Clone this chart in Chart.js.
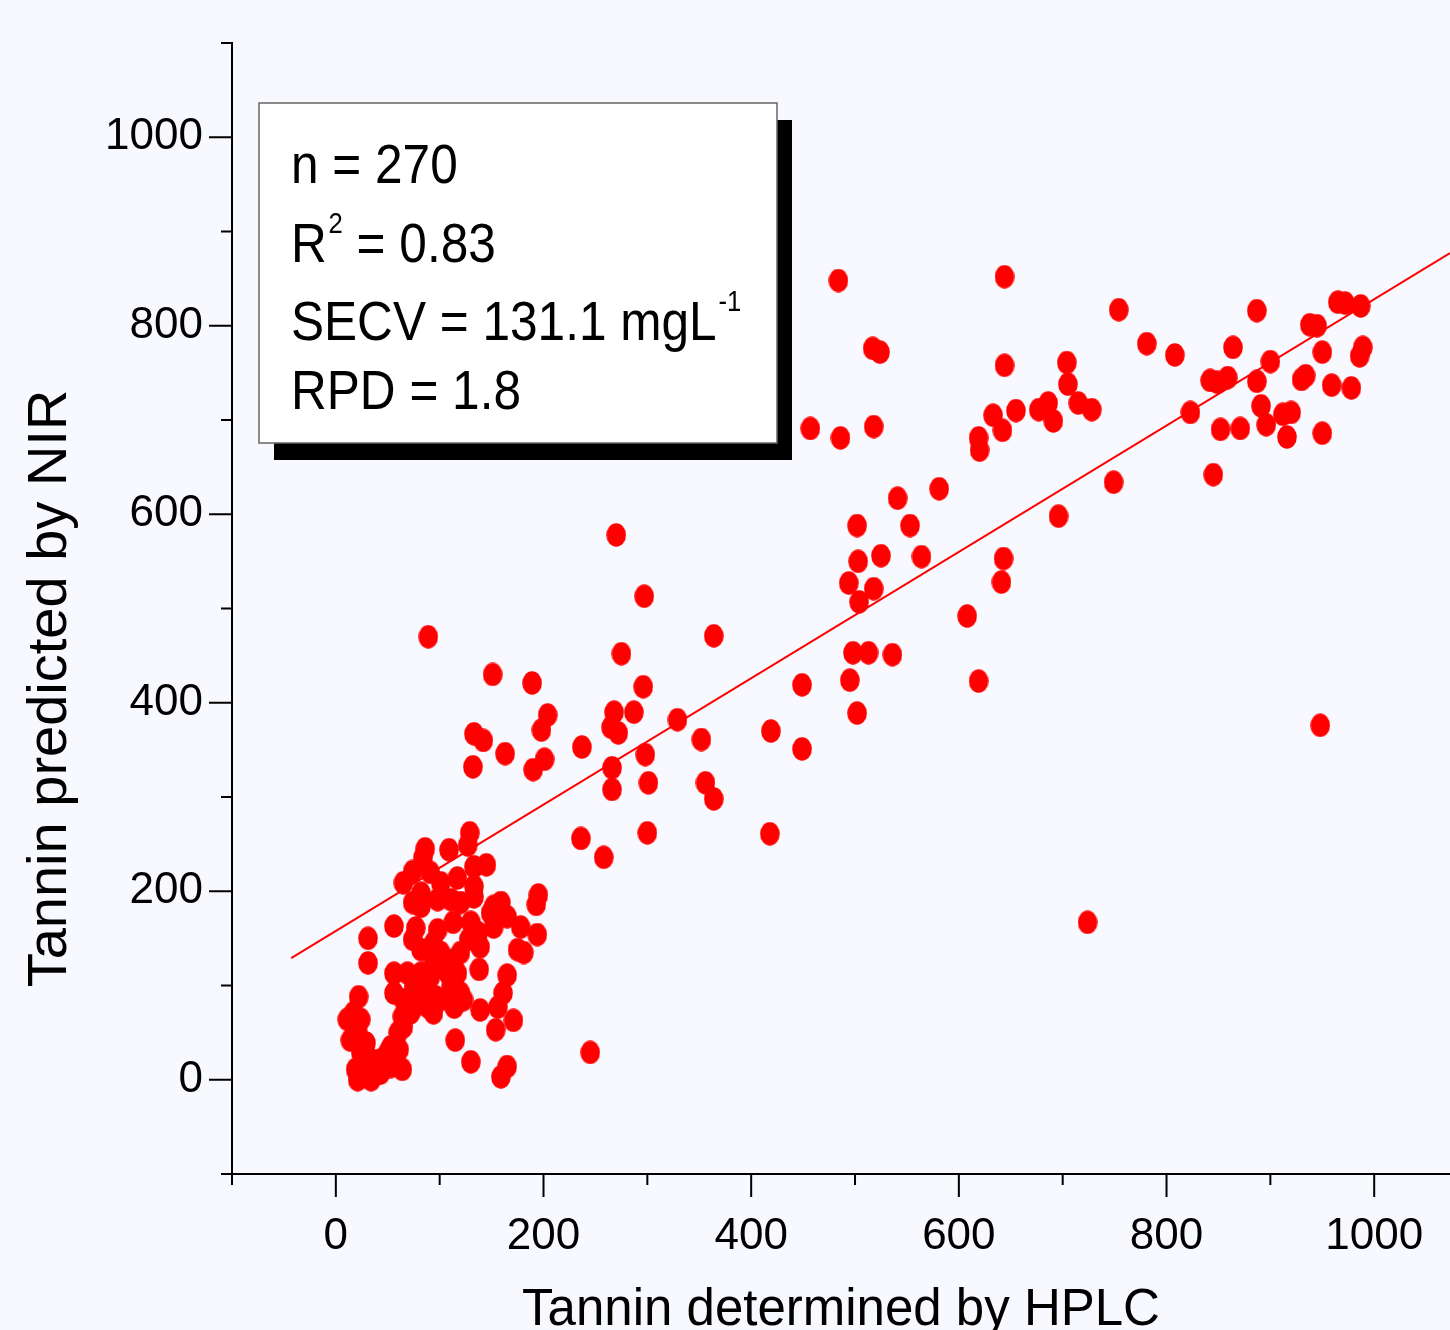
<!DOCTYPE html>
<html lang="en">
<head>
  <meta charset="UTF-8" />
  <title>Tannin: NIR vs HPLC</title>
  <script src="https://cdn.jsdelivr.net/npm/chart.js"></script>
  <style>
    html, body {
      margin: 0;
      padding: 0;
      background: #f8f9fe;
    }
    #wrap {
      width: 1450px;
      height: 1330px;
    }
  </style>
</head>
<body>
  <div id="wrap"><canvas id="nirChart" width="1450" height="1330"></canvas></div>

  <script>
  // Tannin determined by HPLC (x) vs predicted by NIR (y), mg/L
  const hplc = [
    484,644,754,887,781,808,517,524,644,704, 705,715,728,677,686,691,655,633,642,619,
    620,457,486,518,823,845,842,849,859,864, 852,871,887,891,896,900,912,920,916,930,
    934,938,945,950,950,959,965,972,987,978, 986,989,749,696,581,541,553,502,503,525,
    564,494,518,504,643,641,608,498,513,536, 495,502,619,449,419,449,418,948,724,270,
    297,89,151,189,275,296,287,268,265,272, 204,198,133,142,163,132,201,190,237,329,
    352,266,266,298,301,356,364,364,300,236, 258,245,195,193,194,
    129,86,84,109,127,145,65,74,91,101, 117,133,133,74,82,111,133,152,159,56,
    31,31,77,74,98,94,113,130,137,139, 152,149,165,178,175,181,165,161,156,154,
    171,138,139,123,114,117,111,94,91,96, 82,69,56,56,65,75,94,64,65,22,
    11,17,24,21,29,24,19,21,31,34, 43,43,53,61,53,64,115,130,159,165,
    82,98,120,82,101,108,82,75,101,120, 114,89,72,60,34,40,50,24,14,17,128,120
  ];
  const nir = [
    848,852,817,816,781,769,776,772,758,761, 738,718,711,711,718,699,710,705,689,681,
    668,691,681,693,708,642,742,740,745,777, 690,691,741,715,695,762,706,708,682,743,
    747,801,800,772,686,737,825,824,821,734, 768,777,634,598,627,617,588,588,550,556,
    555,527,521,507,553,528,492,453,453,451, 424,389,423,419,370,351,261,376,167,578,
    513,470,430,421,452,417,390,390,374,368, 387,371,367,360,346,332,340,329,353,382,
    361,331,308,345,315,315,298,471,262,256, 236,29,196,186,154,
    262,245,236,244,249,228,209,221,220,209, 214,205,226,188,184,191,194,184,188,163,
    150,124,161,149,159,145,167,167,156,141, 162,177,173,162,138,135,111,92,77,53,
    63,117,74,85,127,113,99,124,109,88, 95,113,113,92,85,77,71,67,56,88,
    64,60,64,50,39,29,11,0,14,0, 21,7,35,32,14,11,42,19,3,14,
    198,191,188,138,135,113,113,99,85,92, 77,77,71,50,21,7,29,7,42,71,149,135
  ];

  // regression line end points
  const fitX = [-43, 1073];
  const fitY = [129, 877];

  const tickValues = [0, 200, 400, 600, 800, 1000];
  const statLines = [
    [{ t: 'n = 270' }],
    [{ t: 'R' }, { t: '2', sup: true }, { t: ' = 0.83' }],
    [{ t: 'SECV = 131.1 mgL' }, { t: '-1', sup: true }],
    [{ t: 'RPD = 1.8' }]
  ];

  const FONT = '"Liberation Sans", Arial, sans-serif';

  // slightly tall ellipse used as the marker
  const dot = document.createElement('canvas');
  dot.width = 20;
  dot.height = 24;
  const dctx = dot.getContext('2d');
  dctx.fillStyle = '#ff0000';
  dctx.beginPath();
  dctx.ellipse(10, 12, 9.8, 11.8, 0, 0, Math.PI * 2);
  dctx.fill();

  const points = hplc.map((x, i) => ({ x, y: nir[i] }));
  const fitLine = fitX.map((x, i) => ({ x, y: fitY[i] }));

  const decorations = {
    id: 'decorations',
    afterDatasetsDraw(chart) {
      const { ctx, chartArea: area, scales } = chart;
      ctx.save();

      // tick marks, long at labelled values
      ctx.strokeStyle = '#000';
      ctx.lineWidth = 2;
      ctx.beginPath();
      scales.x.ticks.forEach(t => {
        const px = scales.x.getPixelForValue(t.value);
        const len = tickValues.includes(t.value) ? 23 : 11;
        ctx.moveTo(px, area.bottom);
        ctx.lineTo(px, area.bottom + len);
      });
      scales.y.ticks.forEach(t => {
        const py = scales.y.getPixelForValue(t.value);
        const len = tickValues.includes(t.value) ? 23 : 11;
        ctx.moveTo(area.left, py);
        ctx.lineTo(area.left - len, py);
      });
      ctx.stroke();

      // y axis title
      ctx.save();
      ctx.translate(51, (area.top + area.bottom) / 2 + 80);
      ctx.rotate(-Math.PI / 2);
      ctx.fillStyle = '#000';
      ctx.font = '56px ' + FONT;
      ctx.textAlign = 'center';
      ctx.textBaseline = 'middle';
      ctx.fillText('Tannin predicted by NIR', 0, 0);
      ctx.restore();

      // statistics box with drop shadow
      const bx = area.left + 27, by = area.top + 60, bw = 518, bh = 340;
      ctx.fillStyle = '#000';
      ctx.fillRect(bx + 15, by + 17, bw, bh);
      ctx.fillStyle = '#fff';
      ctx.fillRect(bx, by, bw, bh);
      ctx.strokeStyle = '#666';
      ctx.lineWidth = 1.5;
      ctx.strokeRect(bx, by, bw, bh);

      const sx = 0.885;
      const baselines = [183, 262, 340, 409];
      ctx.fillStyle = '#000';
      ctx.textAlign = 'left';
      ctx.textBaseline = 'alphabetic';
      statLines.forEach((line, i) => {
        ctx.save();
        ctx.scale(sx, 1);
        let x = (bx + 32) / sx;
        const base = by - 103 + baselines[i];
        line.forEach(seg => {
          if (seg.sup) {
            ctx.font = '29px ' + FONT;
            ctx.fillText(seg.t, x + 2, base - 29);
            x += ctx.measureText(seg.t).width + 2;
          } else {
            ctx.font = '56px ' + FONT;
            ctx.fillText(seg.t, x, base);
            x += ctx.measureText(seg.t).width;
          }
        });
        ctx.restore();
      });

      ctx.restore();
    }
  };

  new Chart(document.getElementById('nirChart'), {
    type: 'scatter',
    data: {
      datasets: [
        {
          label: 'Samples',
          data: points,
          pointStyle: dot,
          pointRadius: 10,
          order: 0
        },
        {
          label: 'Fit',
          data: fitLine,
          showLine: true,
          borderColor: '#ff0000',
          borderWidth: 2,
          pointRadius: 0,
          order: 1
        }
      ]
    },
    options: {
      responsive: false,
      animation: false,
      layout: {
        autoPadding: false,
        padding: { top: 43, right: 0, bottom: 0, left: 0 }
      },
      plugins: {
        legend: { display: false },
        tooltip: { enabled: false }
      },
      scales: {
        x: {
          type: 'linear',
          min: -100,
          max: 1073,
          grid: { display: false, drawTicks: false },
          border: { display: true, color: '#000', width: 2 },
          ticks: {
            stepSize: 100,
            includeBounds: false,
            autoSkip: false,
            maxRotation: 0,
            padding: 36,
            color: '#000',
            font: { family: FONT, size: 44 },
            callback: v => tickValues.includes(v) ? v : ''
          },
          title: {
            display: true,
            text: 'Tannin determined by HPLC',
            color: '#000',
            font: { family: FONT, size: 51 },
            padding: { top: 0, bottom: -12 }
          },
          afterFit: s => {
            s.height = 156;
            s.paddingLeft = 0;
            s.paddingRight = 0;
          }
        },
        y: {
          type: 'linear',
          min: -100,
          max: 1100,
          grid: { display: false, drawTicks: false },
          border: { display: true, color: '#000', width: 2 },
          ticks: {
            stepSize: 100,
            includeBounds: false,
            autoSkip: false,
            padding: 29,
            color: '#000',
            font: { family: FONT, size: 44 },
            callback: v => tickValues.includes(v) ? v : ''
          },
          afterFit: s => {
            s.width = 232;
            s.paddingTop = 0;
            s.paddingBottom = 0;
          }
        }
      }
    },
    plugins: [decorations]
  });
</script>
</body>
</html>
